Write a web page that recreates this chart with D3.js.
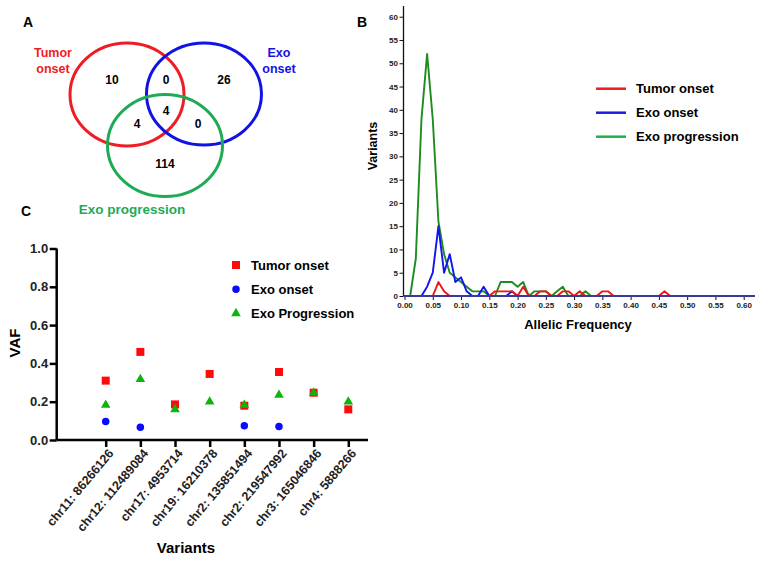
<!DOCTYPE html>
<html><head><meta charset="utf-8">
<script src="https://cdn.jsdelivr.net/npm/d3@7"></script>
<style>body{margin:0;background:#fff}svg{display:block}text{font-family:"Liberation Sans",Arial,sans-serif}</style>
</head><body>
<script>
// ---------- Panel A: Venn counts ----------
const vennSets = ["Tumor onset", "Exo onset", "Exo progression"];
const vennRegionLabels = ["T only", "T∩E", "E only", "T∩E∩P", "T∩P", "E∩P", "P only"];
const vennCounts = [10, 0, 26, 4, 4, 0, 114];

// ---------- Panel B: allelic frequency distribution ----------
const afX = [0.01,0.02,0.03,0.04,0.05,0.06,0.07,0.08,0.09,0.10,0.11,0.12,0.13,0.14,0.15,0.16,0.17,0.18,0.19,0.20,0.21,0.22,0.23,0.24,0.25,0.26,0.27,0.28,0.29,0.30,0.31,0.32,0.33,0.34,0.35,0.36,0.37,0.38,0.39,0.40,0.41,0.42,0.43,0.44,0.45,0.46,0.47];
const afTumorOnset = [null,null,null,null,0,3,1,0,0,0,0,0,0,0,0,1,1,1,1,0,2,0,0,1,1,0,0,1,1,0,1,0,0,0,1,1,0,0,0,0,0,0,0,0,0,1,0];
const afExoOnset = [null,null,0,2,5,15,5,9,3,4,1,0,0,2,0,0,0,0,1,0,null,null,null,null,null,null,null,null,null,null,null,null,null,null,null,null,null,null,null,null,null,null,null,null,null,null,null];
const afExoProgression = [0,8,38,52,38,16,9,5,4,3,2,1,1,1,0,0,3,3,3,2,3,0,1,1,1,0,1,2,0,0,0,1,0,null,null,null,null,null,null,null,null,null,null,null,null,null,null];
const afXTicks = [0,0.05,0.10,0.15,0.20,0.25,0.30,0.35,0.40,0.45,0.50,0.55,0.60];
const afYTicks = [0,5,10,15,20,25,30,35,40,45,50,55,60];
const afSeriesNames = ["Tumor onset", "Exo onset", "Exo progression"];

// ---------- Panel C: VAF per variant ----------
const variants = ["chr11: 86266126","chr12: 112489084","chr17: 4953714","chr19: 16210378","chr2: 135851494","chr2: 219547992","chr3: 165046846","chr4: 5888266"];
const vafTumorOnset = [0.31, 0.46, 0.186, 0.345, 0.179, 0.355, 0.247, 0.16];
const vafExoOnset = [0.096, 0.066, null, null, 0.075, 0.07, null, null];
const vafExoProgression = [0.183, 0.317, 0.16, 0.2, 0.183, 0.235, 0.247, 0.2];
const vafTicks = [0, 0.2, 0.4, 0.6, 0.8, 1.0];
const vafSeriesNames = ["Tumor onset", "Exo onset", "Exo Progression"];

const W = 763, H = 561;
const svg = d3.select("body").append("svg").attr("width", W).attr("height", H);
const FONT = '"Liberation Sans",Arial,sans-serif';

// ===== Panel labels =====
[["A",23,27],["B",357,27],["C",21,216]].forEach(([t,x,y]) =>
  svg.append("text").attr("x",x).attr("y",y).attr("font-size",14).attr("font-weight","bold").text(t));

// ===== Panel A =====
const cRed = "#ee1c25", cBlue = "#1212e6", cGreen = "#1faa55";
const vennCircles = [
  {cx:127, cy:94.5, rx:57, ry:51.5, c:cRed},
  {cx:204, cy:94, rx:57.5, ry:51, c:cBlue},
  {cx:165, cy:145.5, rx:57.5, ry:51, c:cGreen}
];
svg.append("g").selectAll("ellipse").data(vennCircles).join("ellipse")
  .attr("cx",d=>d.cx).attr("cy",d=>d.cy).attr("rx",d=>d.rx).attr("ry",d=>d.ry)
  .attr("fill","none").attr("stroke",d=>d.c).attr("stroke-width",3);
const vennPos = [[112,80],[166,80],[224,80],[166,111],[137,124],[198,124],[165,164]];
svg.append("g").selectAll("text").data(vennCounts).join("text")
  .attr("x",(d,i)=>vennPos[i][0]).attr("y",(d,i)=>vennPos[i][1])
  .attr("text-anchor","middle").attr("dominant-baseline","central")
  .attr("font-size",12).attr("font-weight","bold").text(d=>d);
function setLabel(lines, x, y0, color, fs){
  const t = svg.append("text").attr("text-anchor","middle").attr("font-size",fs)
    .attr("font-weight","bold").attr("fill",color);
  lines.forEach((l,i)=>t.append("tspan").attr("x",x).attr("y",y0+i*15.5).text(l));
}
setLabel(["Tumor","onset"], 53, 57, cRed, 12.5);
setLabel(["Exo","onset"], 279, 57, cBlue, 12.5);
setLabel([vennSets[2]], 132, 214, cGreen, 13.5);

// ===== Panel B =====
const xB = d3.scaleLinear().domain([0, 0.62]).range([404.5, 755]);
const yB = d3.scaleLinear().domain([0, 62.3]).range([296, 6]);
const lineB = d3.line().defined(d=>d[1]!==null).x(d=>xB(d[0])).y(d=>yB(d[1]));
const bCols = ["#f01414", "#1414f0", "#1e8c1e"];
const bSeries = [afExoProgression, afExoOnset, afTumorOnset];
const bSeriesCols = [bCols[2], bCols[1], bCols[0]];
bSeries.forEach((s,k)=>{
  svg.append("path").datum(afX.map((x,i)=>[x,s[i]]))
    .attr("d",lineB).attr("fill","none").attr("stroke",bSeriesCols[k])
    .attr("stroke-width",1.9).attr("stroke-linejoin","round");
});
// axes
const gyB = svg.append("g").attr("transform",`translate(${xB(0)-1},0)`)
  .call(d3.axisLeft(yB).tickValues(afYTicks).tickSize(4).tickPadding(1.5));
gyB.select(".domain").attr("stroke","#111").attr("stroke-width",1.3).attr("d",`M0,${yB(62.3)}V${yB(0)}`);
gyB.selectAll(".tick line").attr("stroke","#111");
gyB.selectAll("text").attr("font-size",8).attr("font-weight","bold").attr("font-family",FONT).attr("fill","#222");
const gxB = svg.append("g").attr("transform",`translate(0,${yB(0)})`)
  .call(d3.axisBottom(xB).tickValues(afXTicks).tickFormat(d3.format(".2f")).tickSize(4).tickPadding(2));
gxB.select(".domain").remove();
gxB.selectAll(".tick line").attr("stroke","#111");
gxB.selectAll("text").attr("font-size",8).attr("font-weight","bold").attr("font-family",FONT).attr("fill","#222");
svg.append("line").attr("x1",xB(0)-1).attr("x2",755).attr("y1",yB(0)).attr("y2",yB(0))
  .attr("stroke","#3a3a96").attr("stroke-width",1.8);
svg.append("text").attr("x",578).attr("y",329).attr("text-anchor","middle")
  .attr("font-size",13).attr("font-weight","bold").text("Allelic Frequency");
svg.append("text").attr("transform","translate(377,146) rotate(-90)").attr("text-anchor","middle")
  .attr("font-size",12.5).attr("font-weight","bold").text("Variants");
// legend B
const legBCols = ["#ee1c24", "#1c1cdc", "#1fb050"];
afSeriesNames.forEach((n,i)=>{
  const y = 88.7 + i*24;
  svg.append("line").attr("x1",596).attr("x2",626).attr("y1",y).attr("y2",y)
    .attr("stroke",legBCols[i]).attr("stroke-width",2.5);
  svg.append("text").attr("x",636).attr("y",y).attr("dominant-baseline","central")
    .attr("font-size",13).attr("font-weight","bold").text(n);
});

// ===== Panel C =====
const xC = d3.scalePoint().domain(variants).range([105.7, 348.3]);
const yC = d3.scaleLinear().domain([0, 1]).range([440, 248.5]);
const gyC = svg.append("g").attr("transform","translate(56.7,0)")
  .call(d3.axisLeft(yC).tickValues(vafTicks).tickFormat(d3.format(".1f")).tickSize(7).tickPadding(1.5));
gyC.select(".domain").attr("stroke","#000").attr("stroke-width",2.5).attr("d",`M0,${yC(1)}V${yC(0)}`);
gyC.selectAll(".tick line").attr("stroke","#000").attr("stroke-width",2.5);
gyC.selectAll("text").attr("font-size",13).attr("font-weight","bold").attr("font-family",FONT).attr("fill","#222");
const gxC = svg.append("g").attr("transform",`translate(0,${yC(0)})`)
  .call(d3.axisBottom(xC).tickSize(7).tickPadding(2));
gxC.select(".domain").remove();
gxC.selectAll(".tick line").attr("stroke","#000").attr("stroke-width",2.5);
gxC.selectAll("text").attr("font-size",12.5).attr("font-weight","bold").attr("font-family",FONT).attr("fill","#222")
  .attr("text-anchor","end").attr("dy",null).attr("dominant-baseline","central")
  .attr("transform","translate(5,11) rotate(-50)").attr("y",0).attr("x",0);
svg.append("line").attr("x1",56.7).attr("x2",368).attr("y1",yC(0)).attr("y2",yC(0))
  .attr("stroke","#000").attr("stroke-width",2.5);
svg.append("text").attr("x",186).attr("y",553).attr("text-anchor","middle")
  .attr("font-size",15).attr("font-weight","bold").text("Variants");
svg.append("text").attr("transform","translate(20,343) rotate(-90)").attr("text-anchor","middle")
  .attr("font-size",15).attr("font-weight","bold").text("VAF");

const cR = "#ff0a0a", cB = "#0a0aff", cG = "#0cb40c";
const sq = d3.symbol().type(d3.symbolSquare).size(64);
const ci = d3.symbol().type(d3.symbolCircle).size(44);
const tr = d3.symbol().type(d3.symbolTriangle).size(40);
function pts(vals, sym, col){
  svg.append("g").selectAll("path").data(vals.map((v,i)=>[variants[i],v]).filter(d=>d[1]!==null)).join("path")
    .attr("d",sym).attr("fill",col)
    .attr("transform",d=>`translate(${xC(d[0])},${yC(d[1])})`);
}
pts(vafExoOnset, ci, cB);
pts(vafTumorOnset, sq, cR);
pts(vafExoProgression, tr, cG);
// legend C
const legSyms = [sq, ci, tr], legCols = [cR, cB, cG];
vafSeriesNames.forEach((n,i)=>{
  const y = 265 + i*24.2;
  svg.append("path").attr("d",legSyms[i]).attr("fill",legCols[i]).attr("transform",`translate(236,${y})`);
  svg.append("text").attr("x",251).attr("y",y).attr("dominant-baseline","central")
    .attr("font-size",13).attr("font-weight","bold").text(n);
});
</script>
</body></html>
